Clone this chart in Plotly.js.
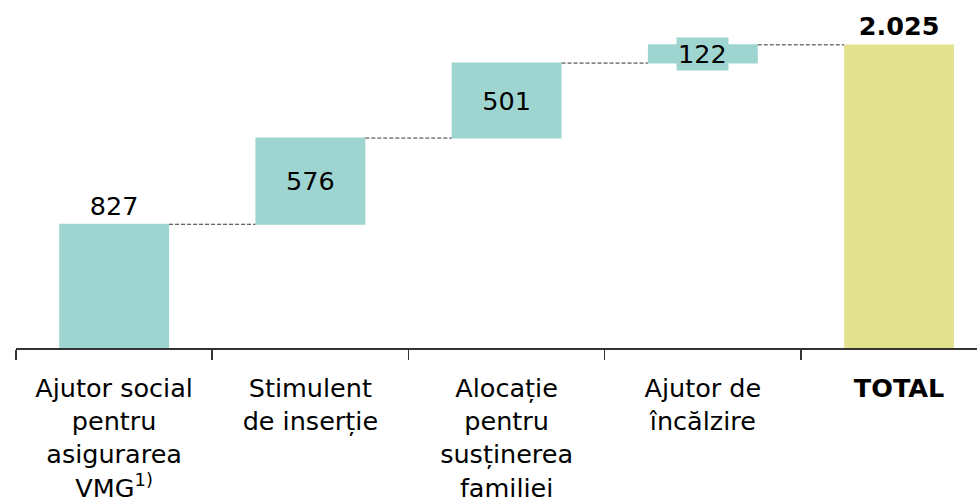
<!DOCTYPE html>
<html><head><meta charset="utf-8">
<script src="https://cdn.plot.ly/plotly-3.0.1.min.js"></script>
<style>html,body{margin:0;padding:0;background:#fff}#c{width:977px;height:497px}</style>
</head><body><div id="c"></div>
<script>
const categories = ["Ajutor social<br>pentru<br>asigurarea<br>VMG<sup>1)</sup>", "Stimulent<br>de inserție", "Alocație<br>pentru<br>susținerea<br>familiei", "Ajutor de<br>încălzire", "<b>TOTAL</b>"];
const values = [827, 576, 501, 122, 2025];
const measures = ["relative", "relative", "relative", "relative", "absolute"];

function fmt(v){ return String(v).replace(/\B(?=(\d{3})+(?!\d))/g, "."); }
const labels = values.map((v,i)=> i===values.length-1 ? "<b>"+fmt(v)+"</b>" : fmt(v));
const textpos = ["outside","inside","inside","none","outside"];

const teal = "#9fd5d0", yellow = "#e3e38f";
const cum4 = values.slice(0,4).reduce((a,b)=>a+b,0);

const trace = {
  type: "waterfall",
  x: categories,
  y: values,
  measure: measures,
  text: labels,
  texttemplate: "%{text}",
  textposition: textpos,
  insidetextanchor: "middle",
  textfont: {family: "DejaVu Sans", size: 25.5, color: "#000"},
  cliponaxis: false,
  width: 0.56,
  increasing: {marker: {color: teal}},
  decreasing: {marker: {color: teal}},
  totals: {marker: {color: yellow}},
  connector: {mode: "between", line: {color: "#333", width: 1, dash: "4px,2px"}},
  hoverinfo: "none"
};

const layout = {
  width: 977, height: 497,
  margin: {l: 16, r: 0, t: 20, b: 149},
  paper_bgcolor: "#fff", plot_bgcolor: "#fff",
  font: {family: "DejaVu Sans", size: 25.5, color: "#000"},
  showlegend: false,
  xaxis: {
    type: "category", range: [-0.5, 4.397],
    showline: true, linecolor: "#333", linewidth: 1.5,
    ticks: "outside", tickson: "boundaries", ticklen: 10, tickcolor: "#333", tickwidth: 1.5,
    tickfont: {family: "DejaVu Sans", size: 25.5, color: "#000"},
    ticklabelstandoff: 17,
    showgrid: false, zeroline: false, fixedrange: true
  },
  yaxis: {range: [0, 2192], visible: false, showgrid: false, zeroline: false, fixedrange: true},
  annotations: [{
    x: categories[3], y: cum4 - values[3]/2, xref: "x", yref: "y",
    text: fmt(values[3]), showarrow: false,
    font: {family: "DejaVu Sans", size: 25.5, color: "#000"},
    bgcolor: teal, borderpad: 1
  }]
};

Plotly.newPlot("c", [trace], layout, {displayModeBar: false, staticPlot: true});
</script></body></html>
